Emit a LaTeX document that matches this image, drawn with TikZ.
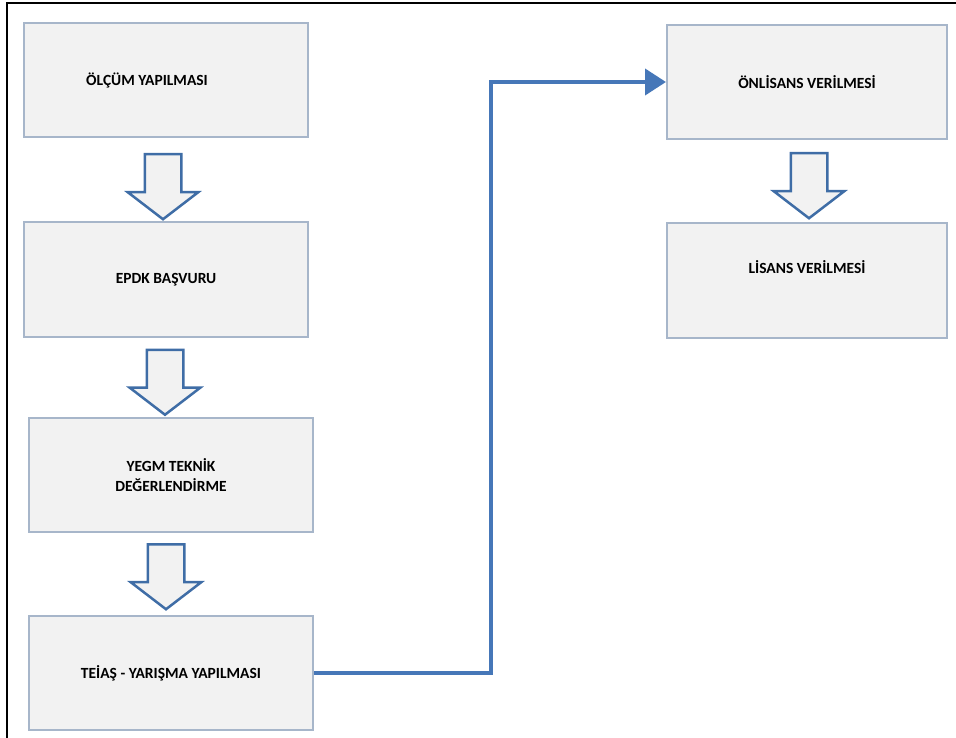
\documentclass[tikz,border=0pt]{standalone}
\usepackage{fontspec}
\setmainfont{Carlito}
\usetikzlibrary{shapes.arrows,arrows.meta}
\definecolor{boxfill}{HTML}{F2F2F2}
\definecolor{boxline}{HTML}{A7B6CA}
\definecolor{arrowline}{HTML}{3F6DA6}
\definecolor{linkblue}{HTML}{4677B8}

\begin{document}
\begin{tikzpicture}[x=1pt, y=-1pt,
    stage/.style={draw=boxline, line width=2pt, fill=boxfill, minimum width=284pt,
      minimum height=114pt, inner sep=0pt, align=center,
      font=\bfseries\fontsize{15.5}{20}\selectfont},
    downarrow/.style={single arrow, draw=arrowline, line width=2.5pt, fill=boxfill,
      rotate=-90, anchor=tail, minimum height=65pt, inner xsep=0pt, inner ysep=17pt,
      single arrow head extend=17pt, single arrow tip angle=105},
    link/.style={draw=linkblue, line width=4pt, -{Triangle[width=26pt,length=21pt]}}]
    \useasboundingbox (0,0) rectangle (956,738);
    \clip (0,0) rectangle (956,738);
    \draw [line width=2pt] (7,3) rectangle (975,760);

    \node [stage] (olcum) at (166,80) {ÖLÇÜM YAPILMASI\hspace*{38pt}};
    \node [stage] (epdk) at (166,279.5) {EPDK BAŞVURU};
    \node [stage] (yegm) at (171,475) {YEGM TEKNİK\\DEĞERLENDİRME};
    \node [stage] (teias) at (171,673) {TEİAŞ - YARIŞMA YAPILMASI};
    \node [stage, minimum width=280pt] (onlisans) at (807,82) {ÖNLİSANS VERİLMESİ};
    \node [stage, minimum width=280pt, minimum height=115pt, text depth=26pt] (lisans) at (807,280.5) {LİSANS VERİLMESİ};

    \node [downarrow] (a1) at ([xshift=-3pt, yshift=-15pt]olcum.south) {};
    \node [downarrow] (a2) at ([xshift=-1pt, yshift=-11pt]epdk.south) {};
    \node [downarrow] (a3) at ([xshift=-5pt, yshift=-10pt]yegm.south) {};
    \node [downarrow] (a4) at ([xshift=2pt, yshift=-12pt]onlisans.south) {};

    \draw [link] (teias.east) -- ++(177,0) |- (onlisans.west);
\end{tikzpicture}
\end{document}
